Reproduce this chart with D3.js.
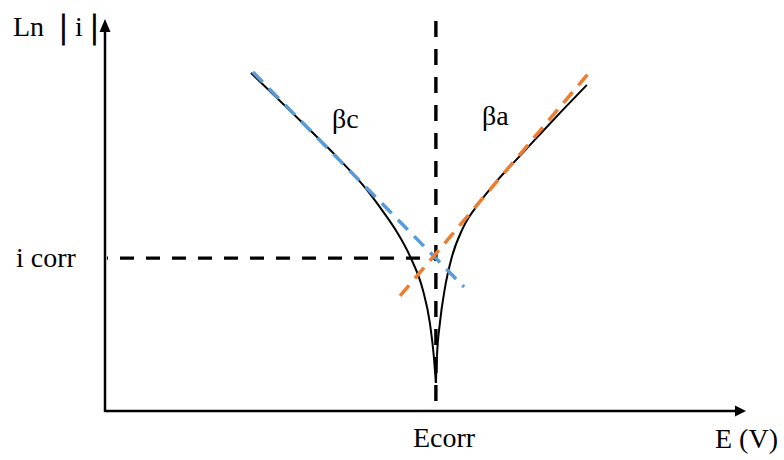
<!DOCTYPE html>
<html>
<head>
<meta charset="utf-8">
<script src="https://cdn.jsdelivr.net/npm/d3@7"></script>
<style>
  html, body { margin: 0; padding: 0; background: #fff; }
  svg { display: block; }
  text { font-family: "Liberation Serif", "Times New Roman", serif; fill: #000; }
</style>
</head>
<body>
<svg id="chart" width="784" height="460"></svg>
<script>
// Tafel plot: potential E (V, relative to Ecorr) vs Ln|i|
const cathodicE = [-0.289, -0.2016, -0.150, -0.1078, -0.0828, -0.0609, -0.0391, -0.0203, -0.0094, -0.0031, 0];
const cathodicLnI = [8.67, 7.28, 6.44, 5.67, 5.12, 4.59, 3.92, 3.10, 2.26, 1.38, 0.72];
const anodicE = [0, 0.0016, 0.0063, 0.0141, 0.025, 0.0422, 0.0688, 0.0953, 0.1266, 0.1578, 0.1984, 0.2359];
const anodicLnI = [0.72, 1.38, 2.26, 3.15, 3.95, 4.69, 5.36, 5.90, 6.46, 7.01, 7.72, 8.36];

// Tafel extrapolation lines (start, end)
const betaCE = [-0.286, 0.044];
const betaCLnI = [8.69, 3.18];
const betaAE = [-0.056, 0.2375];
const betaALnI = [2.95, 8.64];

const Ecorr = 0;
const lnIcorr = 3.92;
const ecorrLineLnI = [10.0, 0.15];

const labels = { y: "Ln", x: "E (V)", ecorr: "Ecorr", icorr: "i corr", bc: "βc", ba: "βa" };

const svg = d3.select("#chart");
const x = d3.scaleLinear().domain([-0.517, 0.483]).range([105, 745]);
const y = d3.scaleLinear().domain([0, 10]).range([411, 21]);

const zip = (a, b) => a.map((v, i) => [v, b[i]]);
const line = d3.line().x(d => x(d[0])).y(d => y(d[1]));
const smooth = d3.line().x(d => x(d[0])).y(d => y(d[1])).curve(d3.curveMonotoneX);

// axes with arrowheads
const x0 = x.range()[0], y0 = y.range()[0];
svg.append("line").attr("x1", x0).attr("y1", y0).attr("x2", 738).attr("y2", y0)
  .attr("stroke", "#000").attr("stroke-width", 2.5);
svg.append("line").attr("x1", x0).attr("y1", y0 + 1).attr("x2", x0).attr("y2", 28)
  .attr("stroke", "#000").attr("stroke-width", 2.5);
svg.append("path").attr("d", `M746,${y0} L735,${y0 - 5.5} L735,${y0 + 5.5} Z`).attr("fill", "#000");
svg.append("path").attr("d", `M${x0},19 L${x0 - 5.5},32 L${x0 + 5.5},32 Z`).attr("fill", "#000");

// Ecorr / icorr guide lines
svg.append("path").attr("d", line([[Ecorr, ecorrLineLnI[0]], [Ecorr, ecorrLineLnI[1]]]))
  .attr("fill", "none").attr("stroke", "#000").attr("stroke-width", 3.4)
  .attr("stroke-dasharray", "16,12");
svg.append("path").attr("d", line([[x.invert(107), lnIcorr], [Ecorr, lnIcorr]]))
  .attr("fill", "none").attr("stroke", "#000").attr("stroke-width", 3.4)
  .attr("stroke-dasharray", "14,12").attr("stroke-dashoffset", 13);

// polarization curve branches
svg.append("path").attr("d", smooth(zip(cathodicE, cathodicLnI)))
  .attr("fill", "none").attr("stroke", "#000").attr("stroke-width", 2);
svg.append("path").attr("d", smooth(zip(anodicE, anodicLnI)))
  .attr("fill", "none").attr("stroke", "#000").attr("stroke-width", 2);

// Tafel slopes
svg.append("path").attr("d", line(zip(betaCE, betaCLnI)))
  .attr("fill", "none").attr("stroke", "#5b9bd5").attr("stroke-width", 3.5)
  .attr("stroke-dasharray", "14,9");
svg.append("path").attr("d", line(zip(betaAE, betaALnI)))
  .attr("fill", "none").attr("stroke", "#ed7d31").attr("stroke-width", 3.5)
  .attr("stroke-dasharray", "14,9");

// labels
const fs = 28;
svg.append("text").attr("x", 13).attr("y", 36).attr("font-size", 28).text(labels.y);
svg.append("text").attr("x", 60).attr("y", 38).attr("font-size", 34).attr("stroke", "#000").attr("stroke-width", 1).text("|");
svg.append("text").attr("x", 75).attr("y", 36).attr("font-size", 28).text("i");
svg.append("text").attr("x", 91).attr("y", 38).attr("font-size", 34).attr("stroke", "#000").attr("stroke-width", 1).text("|");

svg.append("text").attr("x", 16).attr("y", 267).attr("font-size", fs).text(labels.icorr);
svg.append("text").attr("x", 413).attr("y", 447).attr("font-size", fs).text(labels.ecorr);
svg.append("text").attr("x", 715).attr("y", 448).attr("font-size", fs).text(labels.x);
svg.append("text").attr("x", 332).attr("y", 128).attr("font-size", fs).text(labels.bc);
svg.append("text").attr("x", 482).attr("y", 125).attr("font-size", fs).text(labels.ba);
</script>
</body>
</html>
